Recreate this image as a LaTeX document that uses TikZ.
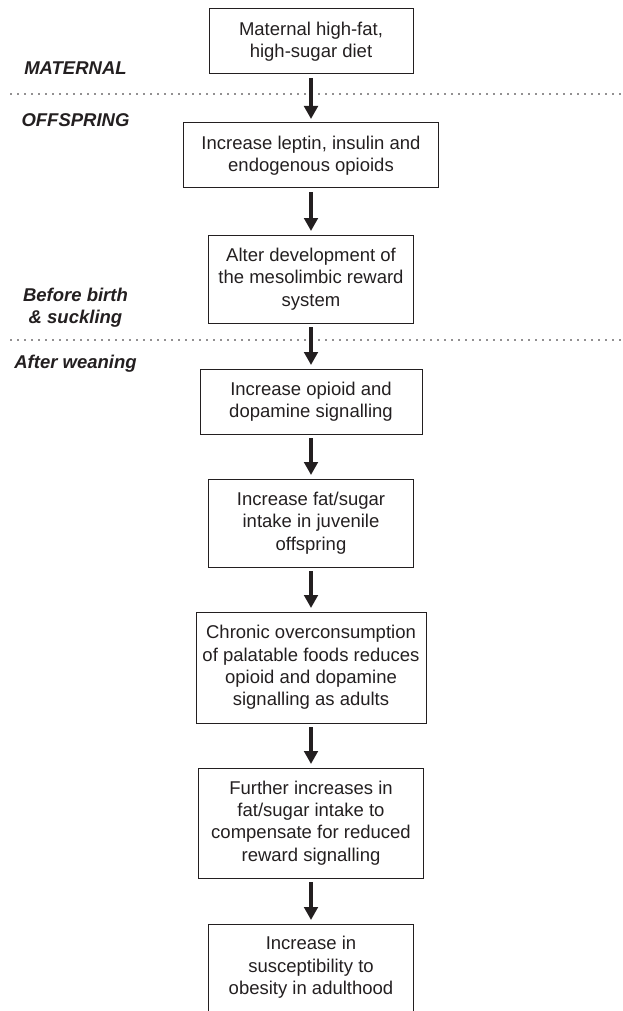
\documentclass[tikz,border=0pt]{standalone}
\usepackage{fontspec}
\setmainfont{Liberation Sans}
\usetikzlibrary{arrows.meta}
\definecolor{ink}{HTML}{231F20}
\begin{document}
\begin{tikzpicture}[x=1pt,y=-1pt,
  box/.style={draw=ink, line width=1pt, inner sep=0pt, align=center, text=ink,
    font=\fontsize{18.5}{22.3}\selectfont},
  flow/.style={draw=ink, line width=4.6pt, -{Triangle[width=13.5pt,length=13pt]},
    shorten <=3.5pt, shorten >=3.5pt},
  phase/.style={text=ink, inner sep=0pt, font=\fontsize{18.5}{22.3}\selectfont\bfseries\itshape},
  divider/.style={draw=ink, line width=1.8pt, dash pattern=on 0pt off 7pt, line cap=round}]
\useasboundingbox (0,0) rectangle (622,1011);

% dividers
\coordinate (d1l) at (11,94);
\coordinate (d1r) at (621,94);
\coordinate (d2l) at (11,340);
\coordinate (d2r) at (621,340);
\draw[divider] (d1l) -- (d1r);
\draw[divider] (d2l) -- (d2r);

% phase labels
\node[phase, anchor=base] (lmat) at (75.5,74.5) {MATERNAL};
\node[phase, anchor=base] (loff) at (75.5,126.5) {OFFSPRING};
\node[phase, anchor=base] (lbb) at (75.5,301.5) {Before birth};
\node[phase, anchor=base] (lsu) at (75.5,323.8) {\& suckling};
\node[phase, anchor=base] (law) at (75.5,368.5) {After weaning};

% boxes
\node[box, minimum width=204pt, minimum height=65pt] (b1) at (311,41.5)
  {Maternal high-fat,\\high-sugar diet};
\node[box, minimum width=255pt, minimum height=65pt] (b2) at (311,155.5)
  {Increase leptin, insulin and\\endogenous opioids};
\node[box, minimum width=205pt, minimum height=88pt] (b3) at (311,279)
  {Alter development of\\the mesolimbic reward\\system};
\node[box, minimum width=222pt, minimum height=65pt] (b4) at (311,401.5)
  {Increase opioid and\\dopamine signalling};
\node[box, minimum width=205pt, minimum height=88pt] (b5) at (311,523)
  {Increase fat/sugar\\intake in juvenile\\offspring};
\node[box, minimum width=230pt, minimum height=111pt] (b6) at (311,667.5)
  {Chronic overconsumption\\of palatable foods reduces\\opioid and dopamine\\signalling as adults};
\node[box, minimum width=225pt, minimum height=110pt] (b7) at (311,823)
  {Further increases in\\fat/sugar intake to\\compensate for reduced\\reward signalling};
\node[box, minimum width=205pt, minimum height=87pt] (b8) at (311,967.5)
  {Increase in\\susceptibility to\\obesity in adulthood};

% arrows
\draw[flow] (b1) -- (b2);
\draw[flow] (b2) -- (b3);
\draw[flow] (b3) -- (b4);
\draw[flow] (b4) -- (b5);
\draw[flow] (b5) -- (b6);
\draw[flow] (b6) -- (b7);
\draw[flow] (b7) -- (b8);
\end{tikzpicture}
\end{document}
